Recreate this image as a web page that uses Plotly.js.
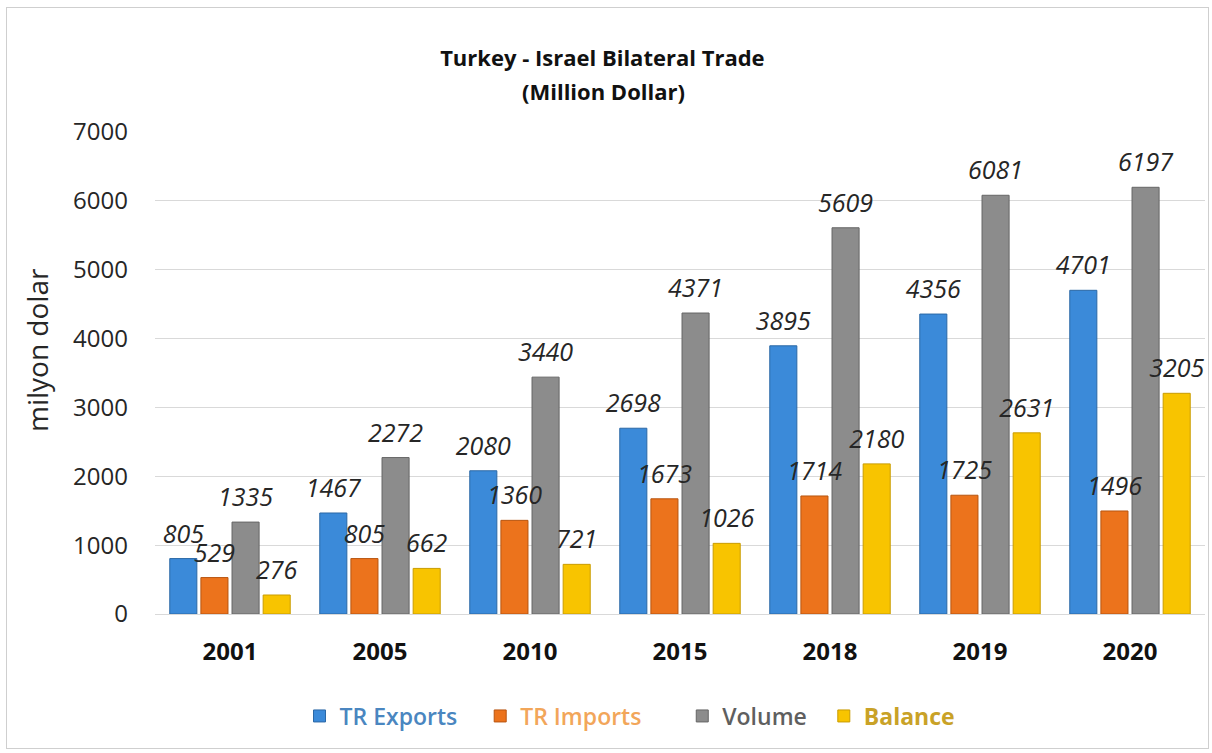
<!DOCTYPE html>
<html>
<head>
<meta charset="utf-8">
<script src="https://cdn.plot.ly/plotly-3.0.1.min.js"></script>
<style>
  html, body { margin: 0; padding: 0; background: #fff; }
  #chart { width: 1212px; height: 753px; position: absolute; left: 0; top: 0; }
  #frame { position: absolute; left: 6px; top: 7px; width: 1201px; height: 740px; border: 1px solid #cfcfcf; pointer-events: none; }
</style>
</head>
<body>
<div id="chart"></div>
<div id="frame"></div>
<script>
const years = ['2001', '2005', '2010', '2015', '2018', '2019', '2020'];
const trExports = [805, 1467, 2080, 2698, 3895, 4356, 4701];
const trImports = [529, 805, 1360, 1673, 1714, 1725, 1496];
const volume = [1335, 2272, 3440, 4371, 5609, 6081, 6197];
const balance = [276, 662, 721, 1026, 2180, 2631, 3205];
const yTicks = [0, 1000, 2000, 3000, 4000, 5000, 6000, 7000];

const FONT = 'Open Sans, Lato, Liberation Sans, sans-serif';
const GAP = 0.17;
const SP = '\u00a0';

function barTrace(key, name, values, fill, edge) {
  return {
    type: 'bar',
    name: name,
    x: years,
    y: values,
    offsetgroup: key,
    alignmentgroup: 'g',
    textposition: 'none',
    marker: {color: fill, line: {color: edge, width: 1}},
    hoverinfo: 'x+y'
  };
}

function labelTrace(key, values) {
  return {
    type: 'scatter',
    mode: 'markers+text',
    x: years,
    y: values,
    offsetgroup: key,
    alignmentgroup: 'g',
    text: values.map(String),
    textposition: 'top center',
    textfont: {family: FONT, size: 25, color: '#262626', style: 'italic'},
    marker: {size: 14, color: 'rgba(0,0,0,0)'},
    cliponaxis: false,
    showlegend: false,
    hoverinfo: 'skip'
  };
}

const data = [
  barTrace('a', '<span style="color:#4a86c0">TR Exports</span>' + SP.repeat(3), trExports, '#3b8ad9', '#2b68a6'),
  barTrace('b', '<span style="color:#f2a65a">TR Imports</span>' + SP.repeat(6), trImports, '#ec731c', '#b85510'),
  barTrace('c', '<span style="color:#5f5f5f">Volume</span>' + SP.repeat(2), volume, '#8c8c8c', '#666666'),
  barTrace('d', '<b><span style="color:#c9a227">Balance</span></b>', balance, '#f8c400', '#c99c00'),
  labelTrace('a', trExports),
  labelTrace('b', trImports),
  labelTrace('c', volume),
  labelTrace('d', balance)
];

const layout = {
  width: 1212,
  height: 753,
  paper_bgcolor: '#ffffff',
  plot_bgcolor: '#ffffff',
  margin: {l: 155, r: 7, t: 132, b: 139},
  font: {family: FONT, color: '#262626'},
  barmode: 'group',
  bargap: GAP,
  bargroupgap: 0.13,
  scattermode: 'group',
  scattergap: GAP,
  title: {
    text: '<b>Turkey - Israel Bilateral Trade</b>',
    font: {family: FONT, size: 22, color: '#111'},
    x: 0.497, xref: 'container', xanchor: 'center',
    y: 1 - 58 / 753, yref: 'container', yanchor: 'middle'
  },
  annotations: [
    {
      text: '<b>(Million Dollar)</b>',
      xref: 'paper', yref: 'paper',
      x: (603 - 155) / 1050, y: 1 + (132 - 91) / 482,
      xanchor: 'center', yanchor: 'middle',
      showarrow: false,
      font: {family: FONT, size: 22, color: '#111'}
    },
    {
      text: 'milyon dolar',
      xref: 'paper', yref: 'paper',
      x: (37 - 155) / 1050, y: (614 - 350) / 482,
      xanchor: 'center', yanchor: 'middle',
      textangle: -90,
      showarrow: false,
      font: {family: FONT, size: 28, color: '#262626'}
    }
  ],
  xaxis: {
    type: 'category',
    tickfont: {family: FONT, size: 24, color: '#111', weight: 'bold'},
    ticklabelstandoff: 16,
    showgrid: false,
    showline: true,
    linecolor: '#d9d9d9',
    linewidth: 1,
    ticks: ''
  },
  yaxis: {
    range: [0, 7000],
    tickvals: yTicks,
    ticktext: yTicks.map(String),
    tickfont: {family: FONT, size: 24, color: '#262626'},
    ticklabelstandoff: 26,
    showgrid: true,
    gridcolor: '#d9d9d9',
    gridwidth: 1,
    zeroline: true,
    zerolinecolor: '#d9d9d9',
    zerolinewidth: 1,
    showline: false,
    ticks: ''
  },
  showlegend: true,
  legend: {
    orientation: 'h',
    xref: 'paper', yref: 'paper',
    x: (630 - 155) / 1050, xanchor: 'center',
    y: (614 - 716) / 482, yanchor: 'middle',
    font: {family: FONT, size: 23, color: '#444', weight: 600},
    itemwidth: 30,
    bgcolor: 'rgba(0,0,0,0)'
  }
};

Plotly.newPlot('chart', data, layout, {displayModeBar: false, staticPlot: true});
</script>
</body>
</html>
